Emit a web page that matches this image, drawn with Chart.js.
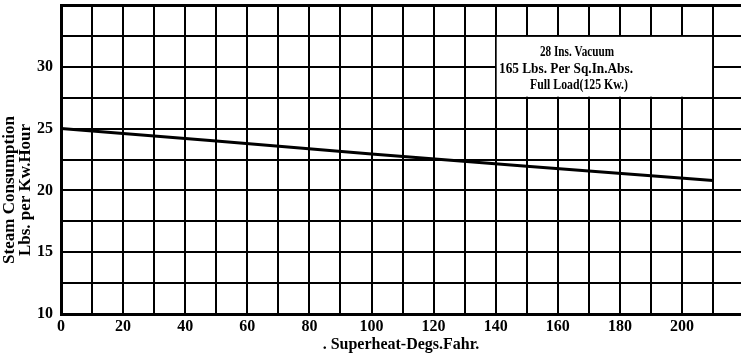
<!DOCTYPE html>
<html>
<head>
<meta charset="utf-8">
<script src="https://cdn.jsdelivr.net/npm/chart.js@4"></script>
<style>
  html, body { margin: 0; padding: 0; background: #fff; }
  #wrap { width: 741px; height: 363px; }
</style>
</head>
<body>
<div id="wrap"><canvas id="steamChart" width="741" height="363"></canvas></div>
<script>
// superheat (deg F) vs steam consumption (lbs per kw hour)
const superheat = [0, 50, 100, 150, 210];
const steamUse = [25.0, 24.0, 22.95, 21.95, 20.8];
const xTicks = [0, 20, 40, 60, 80, 100, 120, 140, 160, 180, 200];
const yTicks = [10, 15, 20, 25, 30];
const noteLines = ['28 Ins. Vacuum', '165 Lbs. Per Sq.In.Abs.', 'Full Load(125 Kw.)'];

const serif = '"Liberation Serif", "DejaVu Serif", serif';

// white note box over the grid + y title
const notePlugin = {
  id: 'note',
  afterDatasetsDraw(chart) {
    const { ctx, scales: { x, y } } = chart;
    const x0 = x.getPixelForValue(140), x1 = x.getPixelForValue(210);
    const y0 = y.getPixelForValue(32.5), y1 = y.getPixelForValue(27.5);
    ctx.save();
    ctx.fillStyle = '#fff';
    ctx.fillRect(x0 + 1, y0 + 1, x1 - x0 - 2, y1 - y0 - 2);
    ctx.fillStyle = '#000';
    ctx.font = 'bold 14px ' + serif;
    ctx.textAlign = 'center';
    ctx.textBaseline = 'middle';
    const cx = [577, 566, 579];
    const ly = [52, 69, 85];
    const mw = [74, 134, 98];
    noteLines.forEach((t, i) => ctx.fillText(t, cx[i], ly[i], mw[i]));

    // y axis title, two lines
    ctx.translate(0, 190);
    ctx.rotate(-Math.PI / 2);
    ctx.font = 'bold 17px ' + serif;
    ctx.fillText('Steam Consumption', 0, 10);
    ctx.fillText('Lbs. per Kw.Hour', 0, 26);
    ctx.restore();
  }
};

new Chart(document.getElementById('steamChart'), {
  type: 'line',
  data: {
    datasets: [{
      data: superheat.map((v, i) => ({ x: v, y: steamUse[i] })),
      borderColor: '#000',
      borderWidth: 3,
      pointRadius: 0,
      tension: 0,
      fill: false
    }]
  },
  options: {
    responsive: false,
    animation: false,
    layout: { padding: { top: 5, right: 0, left: 0, bottom: 0 } },
    plugins: { legend: { display: false }, tooltip: { enabled: false } },
    scales: {
      x: {
        type: 'linear',
        min: 0,
        max: 219,
        afterFit(s) { s.height = 49; s.paddingRight = 0; },
        ticks: {
          stepSize: 10,
          includeBounds: false,
          autoSkip: false,
          maxRotation: 0,
          padding: 3,
          color: '#000',
          font: { family: serif, weight: 'bold', size: 16 },
          callback: v => xTicks.includes(v) ? String(v) : ''
        },
        grid: {
          color: '#000',
          lineWidth: c => c.tick && c.tick.value === 0 ? 3 : 2,
          drawTicks: false
        },
        border: { display: true, color: '#000', width: 3 },
        title: {
          display: true,
          text: '. Superheat-Degs.Fahr.',
          color: '#000',
          font: { family: serif, weight: 'bold', size: 16 },
          padding: { top: 0, bottom: 9 }
        }
      },
      y: {
        type: 'linear',
        min: 10,
        max: 35,
        afterFit(s) { s.width = 61; s.paddingTop = 0; s.paddingBottom = 0; },
        ticks: {
          stepSize: 2.5,
          autoSkip: false,
          padding: 8,
          color: '#000',
          font: { family: serif, weight: 'bold', size: 16 },
          callback: v => yTicks.includes(v) ? String(v) : ''
        },
        grid: {
          color: '#000',
          lineWidth: c => c.tick && (c.tick.value === 35 || c.tick.value === 10) ? 3 : 2,
          drawTicks: false
        },
        border: { display: true, color: '#000', width: 3 }
      }
    }
  },
  plugins: [notePlugin]
});
</script>
</body>
</html>
